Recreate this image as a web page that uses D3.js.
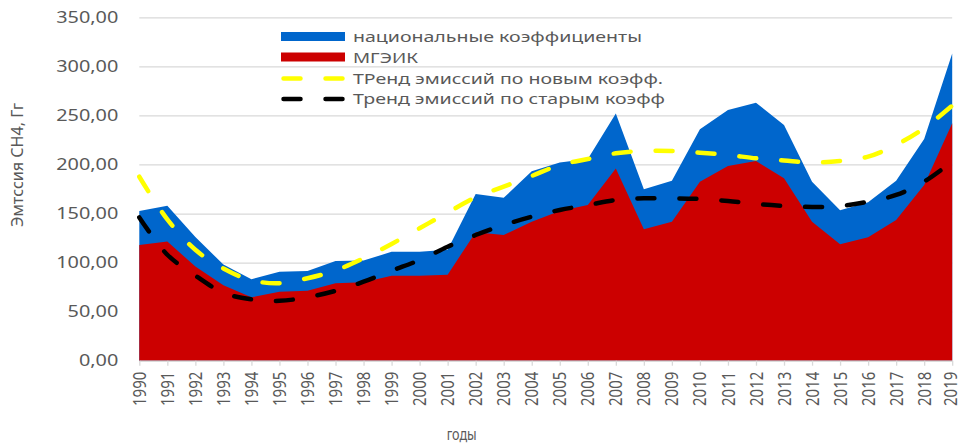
<!DOCTYPE html>
<html>
<head>
<meta charset="utf-8">
<script src="https://cdn.jsdelivr.net/npm/d3@7"></script>
<style>
  body { margin: 0; background: #fff; }
  svg { display: block; }
  text { font-family: "Noto Sans", "DejaVu Sans", sans-serif; fill: #595959; }
</style>
</head>
<body>
<svg id="chart" width="962" height="444"></svg>
<script>
// Methane emissions, Gg CH4, 1990–2019
const years = ["1990","1991","1992","1993","1994","1995","1996","1997","1998","1999",
               "2000","2001","2002","2003","2004","2005","2006","2007","2008","2009",
               "2010","2011","2012","2013","2014","2015","2016","2017","2018","2019"];

// national emission factors
const nationalCoef = [152.5, 158, 126, 98, 83, 90.7, 91.5, 101.5, 102, 111,
                      111, 113, 170, 166, 193, 202, 205.5, 252, 174.7, 183.5,
                      236, 255.6, 263, 240.3, 182.5, 153.3, 161.5, 183.5, 226, 313];

// IPCC default factors
const ipccCoef = [118, 121.5, 96, 77, 64.6, 70.3, 71.4, 79, 80, 86.7,
                  86.7, 87.7, 131, 128, 141.7, 152.5, 158.7, 196, 134, 141.7,
                  182.5, 198.5, 203.6, 186, 141.7, 118.6, 125.8, 143.4, 179, 242];

// trend, new factors
const trendNew = [187.5, 144, 113, 94, 82, 79, 84, 92, 104.4, 119,
                  135, 151, 166.6, 177.4, 188.3, 199.5, 205.6, 211.4, 213.8, 213.8,
                  212, 209.7, 206.3, 204, 202, 203.6, 208, 220, 237, 260];

// trend, old factors
const trendOld = [146, 108, 86.7, 69.3, 62.5, 61, 64.7, 71.2, 80.5, 91.8,
                  102.6, 116.2, 128.1, 138.3, 146.8, 153.6, 158.7, 163.8, 165.5, 165.5,
                  164.8, 162.8, 159.7, 157.7, 156.7, 157.7, 162, 168.9, 182.5, 203];

const yTicks = [0, 50, 100, 150, 200, 250, 300, 350];

const legendLabels = ["национальные коэффициенты", "МГЭИК",
                      "ТРенд эмиссий по новым коэфф.", "Тренд эмиссий по старым коэфф"];
const yTitle = "Эмтссия CH4, Гг";
const xTitle = "годы";

const BLUE = "#0066CC", RED = "#CC0000", YELLOW = "#FFFF00", BLACK = "#000000";
const GRID = "#d9d9d9";

const svg = d3.select("#chart");
const X0 = 139.3, X1 = 952.2, Y0 = 360.7, Y1 = 17.3;

const x = d3.scalePoint().domain(years).range([X0, X1]);
const y = d3.scaleLinear().domain([0, 350]).range([Y0, Y1]);

// gridlines
svg.append("g")
  .attr("transform", `translate(${X0},0)`)
  .call(d3.axisLeft(y).tickValues(yTicks).tickSize(-(X1 - X0)).tickFormat(""))
  .call(g => g.select(".domain").remove())
  .call(g => g.selectAll("line").attr("stroke", GRID).attr("stroke-width", 1.3));

// y tick labels
const fmt = d => d3.format(".2f")(d).replace(".", ",");
const yAxis = svg.append("g")
  .attr("transform", `translate(${X0},0)`)
  .call(d3.axisLeft(y).tickValues(yTicks).tickSize(0).tickPadding(21).tickFormat(fmt))
  .call(g => g.select(".domain").remove());
yAxis.selectAll("text")
  .attr("font-size", 16)
  .style("font-family", '"Noto Sans", sans-serif')
  .attr("fill", "#595959")
  .each(function () {
    const w = this.getComputedTextLength();
    d3.select(this).attr("textLength", w * 1.24).attr("lengthAdjust", "spacingAndGlyphs");
  });

// areas
const area = vals => d3.area()
  .x((d, i) => x(years[i]))
  .y0(y(0))
  .y1(d => y(d))(vals);

svg.append("path").attr("d", area(nationalCoef)).attr("fill", BLUE);
svg.append("path").attr("d", area(ipccCoef)).attr("fill", RED);

// x axis
const xAxis = svg.append("g")
  .attr("transform", `translate(0,${Y0})`)
  .call(d3.axisBottom(x).tickSize(5).tickSizeOuter(0));
xAxis.select(".domain").attr("stroke", GRID).attr("stroke-width", 1.3);
xAxis.selectAll(".tick line").attr("stroke", GRID).attr("stroke-width", 1.3);
const lastYear = years[years.length - 1];
xAxis.selectAll("text")
  .attr("font-size", 15)
  .style("font-family", '"Noto Sans", sans-serif')
  .attr("fill", "#595959")
  .attr("x", 0).attr("y", 0)
  // the last label sits against the right edge, so nudge it inward slightly
  .attr("dy", d => d === lastYear ? "0.25em" : "0.35em")
  .attr("text-anchor", "end")
  .attr("transform", "translate(0,11) scale(1.15,1) rotate(-90)");

// trend lines
const trendLine = d3.line()
  .x((d, i) => x(years[i]))
  .y(d => y(d))
  .curve(d3.curveCatmullRom.alpha(0.5));

const DASH = "17,25";
svg.append("path").attr("d", trendLine(trendNew))
  .attr("fill", "none").attr("stroke", YELLOW).attr("stroke-width", 4.5)
  .attr("stroke-linecap", "round").attr("stroke-dasharray", DASH);
svg.append("path").attr("d", trendLine(trendOld))
  .attr("fill", "none").attr("stroke", BLACK).attr("stroke-width", 4.5)
  .attr("stroke-linecap", "round").attr("stroke-dasharray", DASH);

// legend
const legend = svg.append("g");
const lgX0 = 281, lgX1 = 345, lgTextX = 353;
const textBase = [42, 62.5, 84, 104];
const textWidths = [289, 65, 310, 312];

legend.append("rect").attr("x", lgX0).attr("y", 32).attr("width", lgX1 - lgX0).attr("height", 9).attr("fill", BLUE);
legend.append("rect").attr("x", lgX0).attr("y", 52.5).attr("width", lgX1 - lgX0).attr("height", 9).attr("fill", RED);
legend.append("line").attr("x1", lgX0 + 2.5).attr("x2", lgX1 - 2.5).attr("y1", 78.5).attr("y2", 78.5)
  .attr("stroke", YELLOW).attr("stroke-width", 4.5).attr("stroke-linecap", "round").attr("stroke-dasharray", DASH);
legend.append("line").attr("x1", lgX0 + 2.5).attr("x2", lgX1 - 2.5).attr("y1", 99).attr("y2", 99)
  .attr("stroke", BLACK).attr("stroke-width", 4.5).attr("stroke-linecap", "round").attr("stroke-dasharray", DASH);

legend.selectAll("text.lg")
  .data(legendLabels)
  .join("text")
  .attr("class", "lg")
  .attr("x", lgTextX)
  .attr("y", (d, i) => textBase[i])
  .attr("font-size", 14.5)
  .attr("textLength", (d, i) => textWidths[i])
  .attr("lengthAdjust", "spacingAndGlyphs")
  .text(d => d);

// axis titles
svg.append("text")
  .attr("transform", "translate(17.5,165) rotate(-90)")
  .attr("text-anchor", "middle")
  .attr("dy", "0.35em")
  .attr("font-size", 16)
  .attr("textLength", 124)
  .attr("lengthAdjust", "spacingAndGlyphs")
  .text(yTitle);

svg.append("text")
  .attr("x", 446.7)
  .attr("y", 440)
  .attr("font-size", 15.5)
  .attr("textLength", 30)
  .attr("lengthAdjust", "spacingAndGlyphs")
  .text(xTitle);
</script>
</body>
</html>
